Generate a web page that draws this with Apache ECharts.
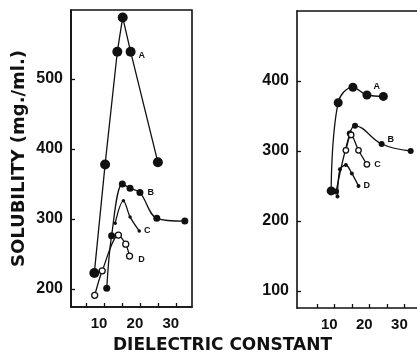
<!DOCTYPE html>
<html>
<head>
<meta charset="utf-8">
<script src="https://cdn.jsdelivr.net/npm/echarts@6/dist/echarts.min.js"></script>
<style>
  html, body { margin: 0; padding: 0; background: #fff; }
  #chart { width: 417px; height: 352px; }
</style>
</head>
<body>
<div id="chart"></div>
<script>
// left panel curves
var leftAx = [7.3, 10.3, 13.7, 15.2, 17.4, 25.0]
var leftAy = [223, 378, 539, 588, 539, 381]
var leftBx = [10.75, 12.1, 15.1, 17.25, 20.0, 24.7, 32.5]
var leftBy = [201, 276, 350, 344, 338, 301, 297]
var leftCx = [13.1, 15.4, 17.25, 19.8]
var leftCy = [294, 326, 303, 283]
var leftDx = [7.4, 9.5, 14.0, 16.05, 17.1]
var leftDy = [191, 226, 277, 264, 247]

// right panel curves
var rightAx = [9.1, 11.1, 15.3, 19.3, 24.0]
var rightAy = [243, 369, 391, 380, 378]
var rightBx = [10.5, 14.4, 15.9, 23.5, 31.8]
var rightBy = [242, 325, 336, 310, 300]
var rightCx = [13.3, 14.8, 16.9, 19.3]
var rightCy = [301, 323, 301, 281]
var rightDx = [10.9, 11.6, 13.3, 15.0, 16.9]
var rightDy = [235, 274, 280, 268, 250]

var xTicks = [5, 10, 15, 20, 25, 30]
var xLabels = [10, 20, 30]
var leftYLabels = [200, 300, 400, 500]
var rightYLabels = [100, 200, 300, 400]

var ink = '#111'

function curve(xs, ys, g, letter, labelIdx, opt) {
  var data = []
  for (var i = 0; i < xs.length; i++) {
    var item = { value: [xs[i], ys[i]] }
    if (i === labelIdx) {
      item.label = {
        show: true,
        formatter: letter,
        position: 'right',
        distance: opt.labelDist || 4,
        offset: opt.labelOff || [0, 0],
        fontSize: 9,
        fontWeight: 'bold',
        fontFamily: 'Liberation Sans',
        color: ink
      }
    }
    data.push(item)
  }
  return {
    type: 'line',
    xAxisIndex: g,
    yAxisIndex: g,
    smooth: opt.smooth || false,
    symbol: 'circle',
    symbolSize: opt.size,
    showAllSymbol: true,
    itemStyle: {
      color: opt.open ? '#fff' : ink,
      borderColor: ink,
      borderWidth: opt.open ? 1.3 : 0
    },
    lineStyle: { color: ink, width: 1.3 },
    data: data,
    z: opt.open ? 4 : 3
  }
}

function xAxisFor(g, min, max) {
  return {
    type: 'value',
    gridIndex: g,
    min: min,
    max: max,
    axisLine: { show: true, onZero: false, lineStyle: { color: ink, width: 1.6 } },
    axisTick: { show: true, inside: true, length: 4, customValues: xTicks, lineStyle: { color: ink, width: 1.3 } },
    axisLabel: {
      customValues: xLabels,
      margin: 9,
      padding: [0, 10, 0, 0],
      fontSize: 15,
      fontWeight: 'bold',
      fontFamily: 'Liberation Sans',
      color: ink
    },
    splitLine: { show: false }
  }
}

function yAxisFor(g, min, max, labels) {
  return {
    type: 'value',
    gridIndex: g,
    min: min,
    max: max,
    axisLine: { show: true, onZero: false, lineStyle: { color: ink, width: 1.6 } },
    axisTick: { show: true, inside: true, length: 4, customValues: labels, lineStyle: { color: ink, width: 1.3 } },
    axisLabel: {
      customValues: labels,
      margin: 8,
      fontSize: 16,
      fontWeight: 'bold',
      fontFamily: 'Liberation Sans',
      color: ink
    },
    splitLine: { show: false }
  }
}

var myChart = echarts.init(document.getElementById('chart'))

var leftY = yAxisFor(0, 174.3, 598.6, leftYLabels)
leftY.name = 'SOLUBILITY (mg./ml.)'
leftY.nameLocation = 'middle'
leftY.nameGap = 43
leftY.nameTextStyle = { fontSize: 18, fontWeight: 'bold', fontFamily: 'DejaVu Sans', color: ink }

// right panel: top line only, its right edge runs off the picture
var rightTop = {
  type: 'value',
  gridIndex: 1,
  position: 'top',
  min: -0.66,
  max: 33.6,
  axisLine: { show: true, onZero: false, lineStyle: { color: ink, width: 1.6 } },
  axisTick: { show: false },
  axisLabel: { show: false },
  splitLine: { show: false }
}

var option = {
  backgroundColor: '#fff',
  animation: false,
  title: {
    text: 'DIELECTRIC CONSTANT',
    left: 108,
    top: 332,
    textStyle: { fontSize: 17, fontWeight: 'bold', fontFamily: 'DejaVu Sans', color: ink }
  },
  grid: [
    { left: 71, top: 10, width: 121, height: 297, show: true, borderColor: ink, borderWidth: 1.6, containLabel: false },
    { left: 297, top: 11, right: 0, height: 297, show: false, containLabel: false }
  ],
  xAxis: [xAxisFor(0, 0.8, 34.5), xAxisFor(1, -0.66, 33.6), rightTop],
  yAxis: [leftY, yAxisFor(1, 75.7, 500, rightYLabels)],
  series: [
    curve(leftAx, leftAy, 0, 'A', 4, { size: 10, labelDist: 3, labelOff: [0, 4] }),
    curve(leftBx, leftBy, 0, 'B', 4, { size: 7, smooth: 0.35, labelDist: 4 }),
    curve(leftCx, leftCy, 0, 'C', 3, { size: 3.5, smooth: 0.35, labelDist: 3 }),
    curve(leftDx, leftDy, 0, 'D', 4, { size: 6, open: true, smooth: 0.3, labelDist: 5, labelOff: [0, 3] }),
    curve(rightAx, rightAy, 1, 'A', 3, { size: 9, smooth: 0.4, labelDist: 2, labelOff: [0, -8] }),
    curve(rightBx, rightBy, 1, 'B', 3, { size: 6, smooth: 0.4, labelDist: 3, labelOff: [0, -4] }),
    curve(rightCx, rightCy, 1, 'C', 3, { size: 5.5, open: true, smooth: 0.3, labelDist: 4 }),
    curve(rightDx, rightDy, 1, 'D', 4, { size: 4, smooth: 0.3, labelDist: 3 })
  ]
}

myChart.setOption(option, true)
window.addEventListener('resize', () => {
  myChart.resize()
})
</script>
</body>
</html>
